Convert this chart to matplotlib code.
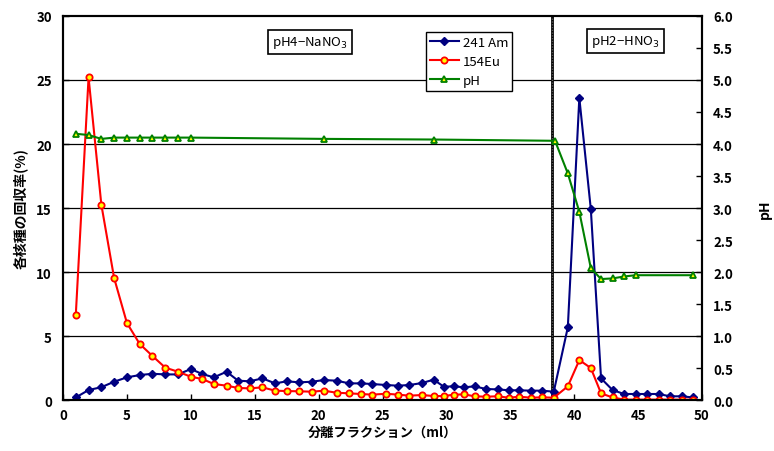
import matplotlib
matplotlib.use("Agg")
from matplotlib import pyplot as plt

plt.rcParams['font.family'] = ['Noto Sans CJK JP', 'DejaVu Sans']

# fraction volume (ml)
frac = [1, 2, 3, 4, 5, 6, 7, 8, 9, 10,
        10.9, 11.8, 12.8, 13.7, 14.6, 15.6, 16.6, 17.5, 18.5, 19.5,
        20.4, 21.4, 22.4, 23.3, 24.2, 25.3, 26.2, 27.1, 28.1, 29.0, 29.8,
        30.6, 31.4, 32.2, 33.1, 34.0, 34.9, 35.7, 36.6, 37.5, 38.4,
        39.5, 40.4, 41.3, 42.1, 43.0, 43.9, 44.8, 45.7, 46.6, 47.5, 48.4, 49.3]

am241 = [0.2, 0.78, 1.0, 1.43, 1.77, 1.95, 2.05, 2.0, 2.0, 2.42,
         2.03, 1.77, 2.21, 1.51, 1.46, 1.69, 1.3, 1.46, 1.38, 1.43,
         1.56, 1.51, 1.30, 1.30, 1.25, 1.17, 1.12, 1.17, 1.33, 1.59, 1.04,
         1.07, 0.99, 1.07, 0.86, 0.83, 0.76, 0.76, 0.73, 0.73, 0.65,
         5.68, 23.6, 14.9, 1.69, 0.78, 0.47, 0.47, 0.47, 0.47, 0.29, 0.29, 0.2]

eu154 = [6.64, 25.2, 15.26, 9.53, 6.02, 4.38, 3.44, 2.53, 2.21, 1.82,
         1.64, 1.25, 1.12, 0.94, 0.91, 0.99, 0.73, 0.70, 0.68, 0.65,
         0.73, 0.57, 0.52, 0.47, 0.42, 0.49, 0.42, 0.34, 0.39, 0.31, 0.31,
         0.42, 0.44, 0.29, 0.26, 0.29, 0.18, 0.26, 0.18, 0.21, 0.18,
         1.07, 3.12, 2.5, 0.52, 0.2, 0.03, 0.03, 0.03, 0.03, 0.03, 0.03, 0.03]

ph_frac = [1, 2, 3, 4, 5, 6, 7, 8, 9, 10, 20.4, 29.0, 38.5,
           39.5, 40.4, 41.3, 42.1, 43.0, 43.9, 44.8, 49.3]
ph = [4.16, 4.14, 4.08, 4.10, 4.10, 4.10, 4.10, 4.10, 4.10, 4.10, 4.08, 4.07, 4.05,
      3.54, 2.94, 2.06, 1.89, 1.90, 1.93, 1.95, 1.95]

switch_at = 38.3

fig = plt.figure(figsize=(7.74, 4.52), dpi=100)
ax = fig.add_axes([0.0814, 0.1128, 0.8256, 0.8496])
ax2 = ax.twinx()

ax.set_xlim(0, 50)
ax.set_ylim(0, 30)
ax2.set_ylim(0, 6)
ax.set_xticks(range(0, 51, 5))
ax.set_yticks(range(0, 31, 5))
ax2.set_yticks([i * 0.5 for i in range(13)])
ax2.set_yticklabels([f"{i * 0.5:.1f}" for i in range(13)])

for y in range(5, 30, 5):
    ax.axhline(y, color='black', lw=0.9, zorder=0)

# separation line (solution change)
ax.axvline(switch_at, color='black', lw=2.0, zorder=1)
ax.axvline(switch_at - 0.06, color='#555555', lw=1.0, ls=(0, (1, 1)), zorder=1)

l1, = ax.plot(frac, am241, color='#000080', lw=1.5, marker='D', ms=4,
              mfc='#000080', mec='#000080', label='241 Am', zorder=3)
l2, = ax.plot(frac, eu154, color='#ff0000', lw=1.5, marker='o', ms=4.5,
              mfc='#ffff00', mec='#ff0000', mew=1.3, label='154Eu', zorder=3)
l3, = ax2.plot(ph_frac, ph, color='#008000', lw=1.5, marker='^', ms=5,
               mfc='#ffff00', mec='#008000', mew=1.3, label='pH', zorder=3)

for a in (ax, ax2):
    a.tick_params(direction='in', labelsize=9.5, width=1, length=4)
    for s in a.spines.values():
        s.set_linewidth(1.5)
for lbl in ax.get_xticklabels() + ax.get_yticklabels() + ax2.get_yticklabels():
    lbl.set_fontweight('bold')
ax.tick_params(axis='x', pad=6)
ax.tick_params(axis='y', pad=8)
ax2.tick_params(axis='y', pad=8)

ax.set_xlabel('分離フラクション（ml）', fontsize=9.5, fontweight='bold', labelpad=2)
ax.set_ylabel('各核種の回収率(%)', fontsize=10, fontweight='bold', labelpad=6)
ax2.set_ylabel('pH', fontsize=10, fontweight='bold', labelpad=18)

box = dict(boxstyle='square,pad=0.3', fc='white', ec='black', lw=1.2)
ax.text(19.3, 28.0, 'pH4−NaNO$_3$', ha='center', va='center', fontsize=9.5, bbox=box)
ax.text(44.0, 28.05, 'pH2−HNO$_3$', ha='center', va='center', fontsize=9.5, bbox=box)

leg = ax2.legend(handles=[l1, l2, l3], loc='upper left', bbox_to_anchor=(0.568, 0.958),
                 borderaxespad=0, fancybox=False, framealpha=1, edgecolor='black',
                 fontsize=9.5, handlelength=2.2, handletextpad=0.3, labelspacing=0.45,
                 borderpad=0.3)
leg.get_frame().set_linewidth(1)

fig.savefig('out.png', dpi=100)
